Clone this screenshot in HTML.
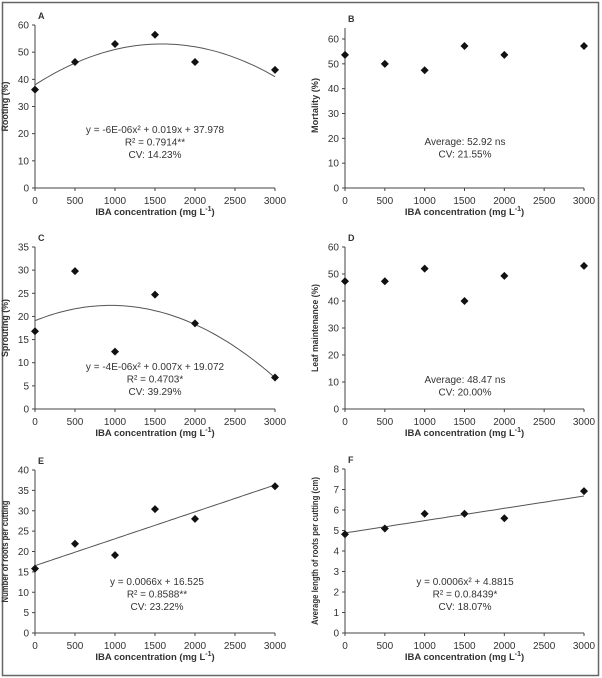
<!DOCTYPE html>
<html><head><meta charset="utf-8">
<style>
body{margin:0;background:#fff;}
svg{display:block;font-family:"Liberation Sans",Arial,sans-serif;}
</style></head>
<body>
<svg id="fig" width="602" height="678" viewBox="0 0 602 678">
<rect x="2.5" y="2.5" width="596" height="673" fill="none" stroke="#666" stroke-width="1.5"/>
</svg>
<script>
const xTicks = [0, 500, 1000, 1500, 2000, 2500, 3000];
const concentrations = [0, 500, 1000, 1500, 2000, 3000];
const rootingValues = [36.2, 46.4, 53.0, 56.4, 46.4, 43.5];
const mortalityValues = [53.6, 50.0, 47.4, 57.2, 53.6, 57.2];
const sproutingValues = [16.8, 29.8, 12.4, 24.7, 18.5, 6.8];
const leafValues = [47.3, 47.3, 52.0, 40.0, 49.3, 53.0];
const rootsNumberValues = [15.8, 21.9, 19.1, 30.4, 28.0, 36.0];
const rootLengthValues = [4.82, 5.1, 5.82, 5.82, 5.6, 6.92];
const rootingFit = [-6e-6, 0.019, 37.978];
const sproutingFit = [-3.7e-6, 0.007, 19.072];
const rootsNumberFit = [0, 0.0066, 16.525];
const rootLengthFit = [0, 0.0006, 4.8815];
const ticksA = [0,10,20,30,40,50,60];
const ticksB = [0,10,20,30,40,50,60];
const ticksC = [0,5,10,15,20,25,30,35];
const ticksD = [0,10,20,30,40,50,60];
const ticksE = [0,5,10,15,20,25,30,35,40];
const ticksF = [0,1,2,3,4,5,6,7,8];

const NS="http://www.w3.org/2000/svg";
const svg=document.getElementById('fig');
function mk(tag,attrs,parent){const e=document.createElementNS(NS,tag);for(const k in attrs)e.setAttribute(k,attrs[k]);(parent||svg).appendChild(e);return e;}

const panels=[
 {id:'a',letter:'A',x0:35,x1:275,yTop:25,yBot:188,max:60,axisTop:25,ticks:ticksA,vals:rootingValues,fit:rootingFit,ytitle:'Rooting (%)',tl:50,text:['y = -6E-06x² + 0.019x + 37.978','R² = 0.7914**','CV: 14.23%'],tx:155,ty:133},
 {id:'b',letter:'B',x0:345,x1:584,yTop:39,yBot:188,max:60,axisTop:28,ticks:ticksB,vals:mortalityValues,fit:null,ytitle:'Mortality (%)',tl:55,text:['Average: 52.92 ns','CV: 21.55%'],tx:465,ty:145},
 {id:'c',letter:'C',x0:35,x1:275,yTop:247,yBot:409,max:35,axisTop:247,ticks:ticksC,vals:sproutingValues,fit:sproutingFit,ytitle:'Sprouting (%)',tl:58,text:['y = -4E-06x² + 0.007x + 19.072','R² = 0.4703*','CV: 39.29%'],tx:155,ty:370},
 {id:'d',letter:'D',x0:345,x1:584,yTop:247,yBot:409,max:60,axisTop:247,ticks:ticksD,vals:leafValues,fit:null,ytitle:'Leaf maintenance (%)',tl:88,text:['Average: 48.47 ns','CV: 20.00%'],tx:465,ty:383},
 {id:'e',letter:'E',x0:35,x1:275,yTop:470,yBot:633,max:40,axisTop:470,ticks:ticksE,vals:rootsNumberValues,fit:rootsNumberFit,ytitle:'Number of roots per cutting',tl:102,text:['y = 0.0066x + 16.525','R² = 0.8588**','CV: 23.22%'],tx:157,ty:585},
 {id:'f',letter:'F',x0:345,x1:584,yTop:469,yBot:633,max:8,axisTop:469,ticks:ticksF,vals:rootLengthValues,fit:rootLengthFit,ytitle:'Average length of roots per cutting (cm)',tl:148,text:['y = 0.0006x² + 4.8815','R² = 0.0.8439*','CV: 18.07%'],tx:465,ty:585}
];

panels.forEach(p=>{
  const g=mk('g',{});
  
  
  const sx=v=>p.x0+(v/3000)*(p.x1-p.x0);
  const sy=v=>p.yBot-(v/p.max)*(p.yBot-p.yTop);
  const c='#444';
  const xa=mk('line',{x1:p.x0,y1:p.yBot,x2:p.x1,y2:p.yBot,stroke:c,'stroke-width':1},g);
  
  
  const ya=mk('line',{x1:p.x0,y1:p.axisTop,x2:p.x0,y2:p.yBot,stroke:c,'stroke-width':1},g);
  
  
  xTicks.forEach(t=>{
    mk('line',{x1:sx(t),y1:p.yBot,x2:sx(t),y2:p.yBot+3,stroke:c},g);
    const tl=mk('text',{x:sx(t),y:p.yBot+16,'text-anchor':'middle','font-size':10,fill:'#333'},g);
    tl.textContent=t;
    
    
  });
  p.ticks.forEach(t=>{
    mk('line',{x1:p.x0-3,y1:sy(t),x2:p.x0,y2:sy(t),stroke:c},g);
    const tl=mk('text',{x:p.x0-6,y:sy(t)+3.5,'text-anchor':'end','font-size':10,fill:'#333'},g);
    tl.textContent=t;
    
    
  });
  const xt=mk('text',{x:(p.x0+p.x1)/2,y:p.yBot+27,'text-anchor':'middle','font-size':9.5,'font-weight':'bold',fill:'#333'},g);
  xt.innerHTML='IBA concentration (mg L<tspan font-size="7" dy="-4">-1</tspan><tspan dy="4">)</tspan>';
  
  
  const ycx=p.x0-27, ycy=(p.yTop+p.yBot)/2+ (p.id==='b'?-8:0);
  const yt=mk('text',{x:ycx,y:ycy,'text-anchor':'middle','font-size':9.5,'font-weight':'bold',fill:'#333',textLength:p.tl,lengthAdjust:'spacingAndGlyphs',transform:`rotate(-90 ${ycx} ${ycy})`},g);
  yt.textContent=p.ytitle;
  
  
  const lt=mk('text',{x:p.x0+3,y:p.axisTop-6,'font-size':9,'font-weight':'bold',fill:'#333'},g);
  lt.textContent=p.letter;
  
  
  if(p.fit){
    let d='';
    for(let x=0;x<=3000;x+=50){const v=p.fit[0]*x*x+p.fit[1]*x+p.fit[2];d+=(x?'L':'M')+sx(x).toFixed(1)+' '+sy(v).toFixed(1);}
    const fl=mk('path',{d:d,fill:'none',stroke:'#555','stroke-width':1},g);
    
    
  }
  concentrations.forEach((x,i)=>{
    const cx=sx(x),cy=sy(p.vals[i]);
    const m=mk('path',{d:`M${cx} ${cy-4}L${cx+4} ${cy}L${cx} ${cy+4}L${cx-4} ${cy}Z`,fill:'#111'},g);
    
    
  });
  p.text.forEach((s,i)=>{
    const t=mk('text',{x:p.tx,y:p.ty+i*12.5,'text-anchor':'middle','font-size':10,fill:'#333'},g);
    t.textContent=s;
    
    
  });
});
</script>
</body></html>
